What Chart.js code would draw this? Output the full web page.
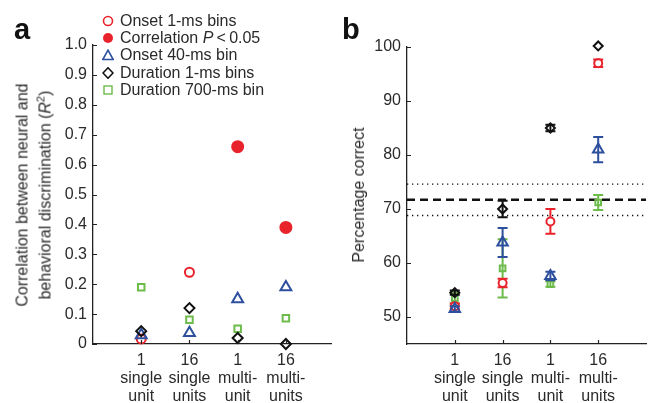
<!DOCTYPE html>
<html>
<head>
<meta charset="utf-8">
<script src="https://cdn.jsdelivr.net/npm/chart.js@4.4.1/dist/chart.umd.min.js"></script>
<style>
  body { margin: 0; background: #fff; font-family: "Liberation Sans", Arial, sans-serif; color: #2a2a2a; }
  #wrap { position: relative; width: 654px; height: 403px; overflow: hidden; }
  .panel { position: absolute; top: 0; height: 403px; }
  .letter { position: absolute; font-weight: bold; font-size: 29px; line-height: 1; color: #111; }
  .ytitle { position: absolute; font-size: 16px; line-height: 18px; white-space: nowrap; text-align: center;
            transform: translate(-50%, -50%) rotate(-90deg); }
  #legend { position: absolute; left: 102px; top: 12px; font-size: 16px; }
  #legend div { display: flex; align-items: center; height: 17.3px; white-space: nowrap; }
  #legend svg { width: 12px; height: 12px; margin-right: 6px; }
</style>
</head>
<body>
<div id="wrap">
  <div class="panel" style="left:0;width:340px"><canvas id="chartA" width="340" height="403"></canvas></div>
  <div class="panel" style="left:340px;width:314px"><canvas id="chartB" width="314" height="403"></canvas></div>

  <div class="letter" style="left:14px;top:15px">a</div>
  <div class="letter" style="left:342px;top:15px">b</div>

  <div class="ytitle" style="left:34px;top:195px">Correlation between neural and<br>behavioral discrimination (<i>R</i><span style="font-size:11px;vertical-align:6px">2</span>)</div>
  <div class="ytitle" style="left:359px;top:195px">Percentage correct</div>

  <div id="legend">
    <div><svg viewBox="0 0 12 12"><circle cx="6" cy="6" r="4.5" fill="none" stroke="#e8232b" stroke-width="1.6"/></svg>Onset 1-ms bins</div>
    <div><svg viewBox="0 0 12 12"><circle cx="6" cy="6" r="5" fill="#e8232b"/></svg>Correlation&nbsp;<i>P</i>&thinsp;&lt;&thinsp;0.05</div>
    <div><svg viewBox="0 0 12 12"><polygon points="6,1.2 11.2,10.5 0.8,10.5" fill="none" stroke="#2d4f9e" stroke-width="1.6"/></svg>Onset 40-ms bin</div>
    <div><svg viewBox="0 0 12 12"><polygon points="6,0.8 11,6 6,11.2 1,6" fill="none" stroke="#111" stroke-width="1.6"/></svg>Duration 1-ms bins</div>
    <div><svg viewBox="0 0 12 12"><rect x="2" y="2" width="8" height="8" fill="none" stroke="#6dbb4b" stroke-width="1.4"/></svg>Duration 700-ms bin</div>
  </div>
</div>

<script>
// Categories (x positions 1..4)
var categories = [["1", "single", "unit"], ["16", "single", "units"], ["1", "multi-", "unit"], ["16", "multi-", "units"]];
var catPos = [1, 2, 3, 4];

// Panel a: correlation R^2
var onset1msR2 = [0.017, 0.24, null, null];
var corrSigR2 = [null, null, 0.66, 0.39];
var onset40msR2 = [0.03, 0.037, 0.15, 0.19];
var dur1msR2 = [0.043, 0.12, 0.02, 0];
var dur700msR2 = [0.19, 0.081, 0.051, 0.086];
var r2Ticks = [0, 0.1, 0.2, 0.3, 0.4, 0.5, 0.6, 0.7, 0.8, 0.9, 1.0];

// Panel b: percentage correct (mean and error)
var onset1msPct = [52.0, 56.3, 67.7, 97.0];
var onset1msErr = [0.5, 0.8, 2.3, 0.7];
var onset40msPct = [51.5, 63.8, 57.6, 81.0];
var onset40msErr = [0.5, 2.7, 0.8, 2.35];
var dur1msPct = [54.5, 70.0, 85.0, 100.2];
var dur1msErr = [0.4, 1.55, 0.6, 0];
var dur700msPct = [53.5, 59.0, 56.1, 71.2];
var dur700msErr = [1.0, 5.4, 0.5, 1.4];
var pctTicks = [50, 60, 70, 80, 90, 100];
var chanceLevel = 71.7;
var chanceBand = [68.8, 74.6];

var RED = "#e8232b", BLUE = "#2d4f9e", BLACK = "#111", GREEN = "#6dbb4b";
var FONT = { family: "'Liberation Sans', Arial, sans-serif", size: 16 };

function toPoints(vals) {
  return vals.map(function (v, i) { return { x: catPos[i], y: v }; });
}

// small ticks drawn inward, like the original figure
var inwardTicks = {
  id: "inwardTicks",
  afterDraw: function (chart) {
    var ctx = chart.ctx, x = chart.scales.x, y = chart.scales.y;
    ctx.save();
    ctx.strokeStyle = "#222";
    ctx.lineWidth = 1.2;
    ctx.beginPath();
    y.ticks.forEach(function (t) {
      var py = Math.round(y.getPixelForValue(t.value)) + 0.5;
      ctx.moveTo(x.left, py); ctx.lineTo(x.left + 4, py);
    });
    x.ticks.forEach(function (t) {
      var px = Math.round(x.getPixelForValue(t.value)) + 0.5;
      ctx.moveTo(px, y.bottom); ctx.lineTo(px, y.bottom - 4);
    });
    ctx.stroke();
    ctx.restore();
  }
};

// error bars with caps, drawn just before each dataset's markers
var errorBars = {
  id: "errorBars",
  beforeDatasetDraw: function (chart, args) {
    var ds = chart.data.datasets[args.index];
    if (!ds.err) return;
    var ctx = chart.ctx, x = chart.scales.x, y = chart.scales.y;
    ctx.save();
    ctx.strokeStyle = ds.borderColor;
    ctx.lineWidth = 2;
    ds.data.forEach(function (p, i) {
      var e = ds.err[i];
      if (!e || p.y === null) return;
      var px = x.getPixelForValue(p.x);
      var top = y.getPixelForValue(p.y + e), bot = y.getPixelForValue(p.y - e);
      ctx.beginPath();
      ctx.moveTo(px, top); ctx.lineTo(px, bot);
      ctx.moveTo(px - 5, top); ctx.lineTo(px + 5, top);
      ctx.moveTo(px - 5, bot); ctx.lineTo(px + 5, bot);
      ctx.stroke();
    });
    ctx.restore();
  }
};

function marker(label, vals, style, color, radius, filled, order, extra) {
  var ds = {
    label: label,
    data: toPoints(vals),
    pointStyle: style,
    pointRadius: radius,
    pointHoverRadius: radius,
    pointBorderWidth: 2,
    borderColor: color,
    pointBorderColor: color,
    pointBackgroundColor: filled === true ? color : (filled || "rgba(0,0,0,0)"),
    backgroundColor: color,
    showLine: false,
    clip: false,
    order: order
  };
  return Object.assign(ds, extra || {});
}

function refLine(y, dash, width) {
  return {
    data: [{ x: 0, y: y }, { x: 5, y: y }],
    showLine: true,
    borderColor: "#111",
    borderWidth: width,
    borderDash: dash,
    pointRadius: 0,
    order: 10
  };
}

function makeOptions(yMin, yMax, yTickVals, yFmt, xMax, yWidth, padTop, padRight) {
  return {
    responsive: false,
    animation: false,
    layout: { padding: { left: 0, top: padTop, right: padRight, bottom: 0 } },
    plugins: { legend: { display: false }, tooltip: { enabled: false } },
    scales: {
      x: {
        type: "linear", min: 0, max: xMax,
        afterBuildTicks: function (s) { s.ticks = catPos.map(function (v) { return { value: v }; }); },
        afterFit: function (s) { s.height = 59; },
        grid: { display: false, drawTicks: false },
        border: { color: "#222", width: 1.3 },
        ticks: {
          callback: function (v) { return categories[v - 1]; },
          padding: 7, maxRotation: 0, autoSkip: false,
          color: "#2a2a2a", font: Object.assign({ lineHeight: 1.14 }, FONT)
        }
      },
      y: {
        min: yMin, max: yMax,
        afterBuildTicks: function (s) { s.ticks = yTickVals.map(function (v) { return { value: v }; }); },
        afterFit: function (s) { s.width = yWidth; },
        grid: { display: false, drawTicks: false },
        border: { color: "#222", width: 1.3 },
        ticks: { callback: yFmt, padding: 6, color: "#2a2a2a", font: FONT }
      }
    }
  };
}

new Chart("chartA", {
  type: "scatter",
  data: {
    datasets: [
      marker("Onset 1-ms bins", onset1msR2, "circle", RED, 4.5, false, 5),
      marker("Correlation P < 0.05", corrSigR2, "circle", RED, 5.5, true, 4),
      marker("Onset 40-ms bin", onset40msR2, "triangle", BLUE, 6.3, false, 3),
      marker("Duration 1-ms bins", dur1msR2, "rectRot", BLACK, 5, false, 1),
      marker("Duration 700-ms bin", dur700msR2, "rect", GREEN, 4.6, false, 2)
    ]
  },
  options: makeOptions(0, 1, r2Ticks, function (v) { return v === 0 ? "0" : v.toFixed(1); }, 4.95, 93, 45, 5),
  plugins: [inwardTicks]
});

new Chart("chartB", {
  type: "scatter",
  data: {
    datasets: [
      refLine(chanceLevel, [8, 5], 2.6),
      refLine(chanceBand[0], [1.3, 3.7], 1.3),
      refLine(chanceBand[1], [1.3, 3.7], 1.3),
      marker("Onset 1-ms bins", onset1msPct, "circle", RED, 4, "#fff", 3, { err: onset1msErr }),
      marker("Onset 40-ms bin", onset40msPct, "triangle", BLUE, 6, false, 2, { err: onset40msErr }),
      marker("Duration 1-ms bins", dur1msPct, "rectRot", BLACK, 4.5, false, 1, { err: dur1msErr }),
      marker("Duration 700-ms bin", dur700msPct, "rect", GREEN, 4, false, 4, { err: dur700msErr })
    ]
  },
  options: makeOptions(45, 100, pctTicks, function (v) { return String(v); }, 5, 67, 47, 4),
  plugins: [inwardTicks, errorBars]
});
</script>
</body>
</html>
